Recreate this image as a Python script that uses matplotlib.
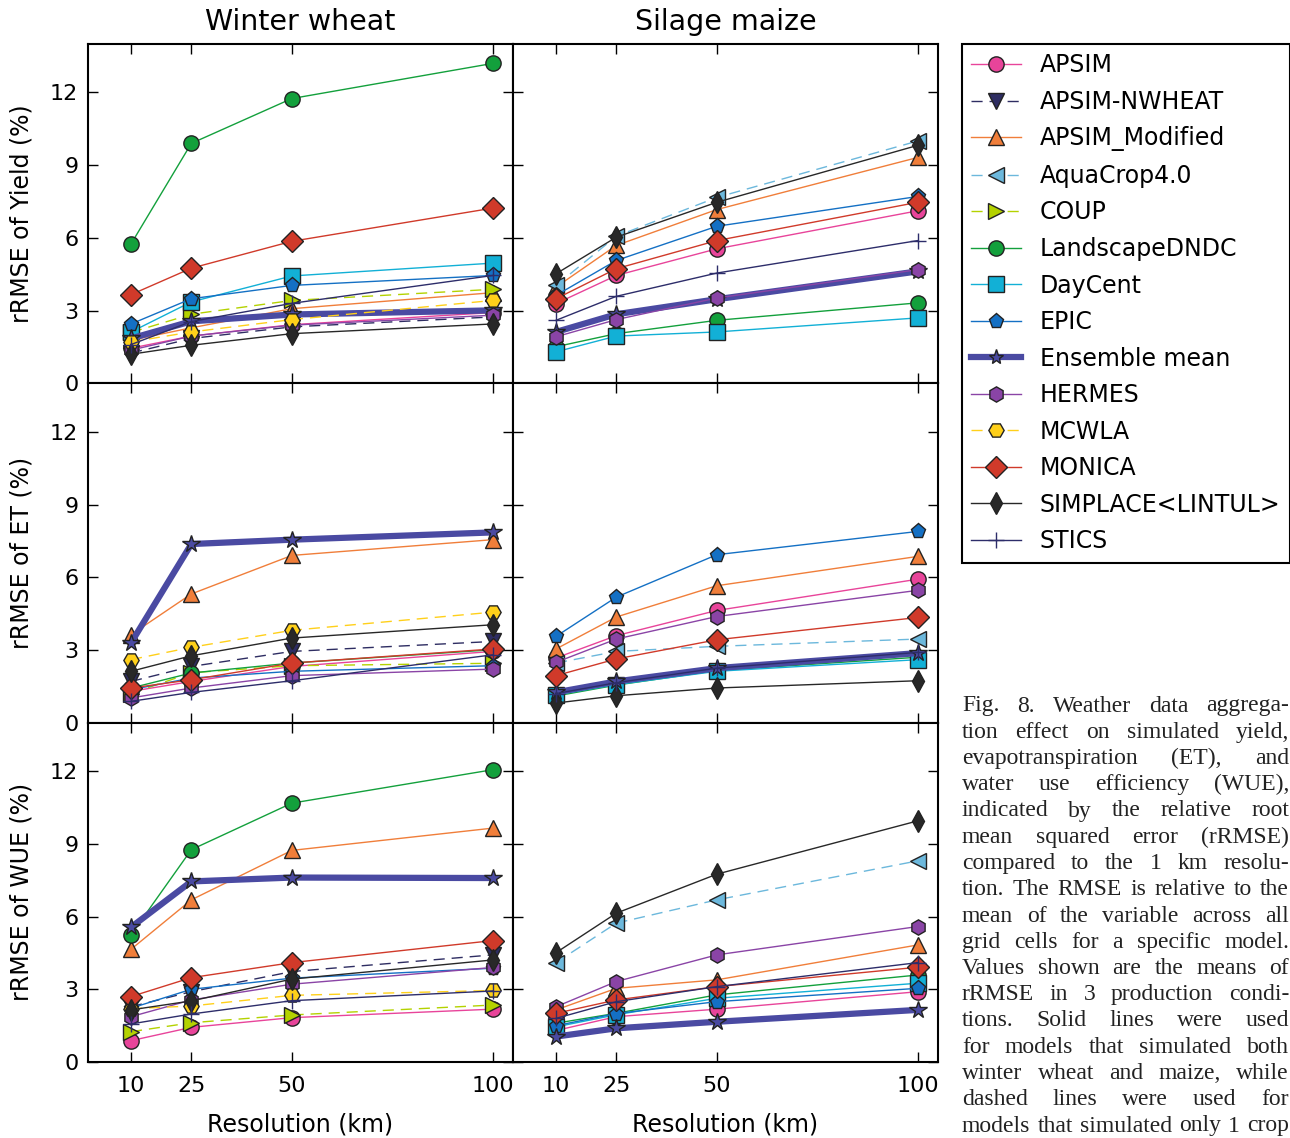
import matplotlib
matplotlib.use('Agg')
import matplotlib.pyplot as plt
from matplotlib.lines import Line2D

resolution = [10, 25, 50, 100]

models = ['APSIM', 'APSIM-NWHEAT', 'APSIM_Modified', 'AquaCrop4.0', 'COUP',
          'LandscapeDNDC', 'DayCent', 'EPIC', 'Ensemble mean', 'HERMES',
          'MCWLA', 'MONICA', 'SIMPLACE<LINTUL>', 'STICS']

# rRMSE (%) per panel
yield_wheat = {
    'APSIM': [1.45, 1.95, 2.42, 2.92],
    'APSIM-NWHEAT': [1.25, 1.85, 2.33, 2.74],
    'APSIM_Modified': [1.78, 2.29, 3.08, 3.74],
    'COUP': [2.1, 2.85, 3.42, 3.88],
    'LandscapeDNDC': [5.75, 9.9, 11.75, 13.2],
    'DayCent': [2.12, 3.36, 4.43, 4.96],
    'EPIC': [2.45, 3.49, 4.04, 4.45],
    'Ensemble mean': [1.85, 2.56, 2.84, 3.01],
    'HERMES': [1.37, 1.95, 2.40, 2.81],
    'MCWLA': [1.71, 2.12, 2.63, 3.42],
    'MONICA': [3.66, 4.75, 5.86, 7.23],
    'SIMPLACE<LINTUL>': [1.2, 1.57, 2.05, 2.45],
    'STICS': [1.6, 2.55, 3.3, 4.45],
}
yield_maize = {
    'APSIM': [3.29, 4.45, 5.55, 7.12],
    'APSIM_Modified': [3.97, 5.69, 7.17, 9.32],
    'AquaCrop4.0': [4.04, 6.07, 7.67, 10.0],
    'LandscapeDNDC': [1.51, 2.05, 2.60, 3.32],
    'DayCent': [1.30, 1.95, 2.12, 2.70],
    'EPIC': [3.63, 5.07, 6.48, 7.71],
    'Ensemble mean': [2.12, 2.85, 3.47, 4.62],
    'HERMES': [1.92, 2.63, 3.52, 4.69],
    'MONICA': [3.49, 4.73, 5.89, 7.47],
    'SIMPLACE<LINTUL>': [4.52, 6.03, 7.47, 9.82],
    'STICS': [2.60, 3.59, 4.55, 5.89],
}
et_wheat = {
    'APSIM': [1.29, 1.70, 2.32, 2.94],
    'APSIM-NWHEAT': [1.7, 2.32, 2.94, 3.35],
    'APSIM_Modified': [3.63, 5.31, 6.9, 7.55],
    'COUP': [1.2, 2.06, 2.35, 2.45],
    'LandscapeDNDC': [1.43, 2.05, 2.46, 3.01],
    'EPIC': [1.36, 1.84, 2.12, 2.35],
    'Ensemble mean': [3.29, 7.37, 7.55, 7.85],
    'HERMES': [1.02, 1.43, 1.94, 2.21],
    'MCWLA': [2.6, 3.11, 3.81, 4.56],
    'MONICA': [1.43, 1.77, 2.46, 3.04],
    'SIMPLACE<LINTUL>': [2.12, 2.76, 3.49, 4.04],
    'STICS': [0.88, 1.25, 1.73, 2.80],
}
et_maize = {
    'APSIM': [2.67, 3.59, 4.63, 5.92],
    'APSIM_Modified': [3.04, 4.36, 5.65, 6.86],
    'AquaCrop4.0': [2.46, 2.94, 3.15, 3.45],
    'LandscapeDNDC': [1.1, 1.55, 2.15, 2.7],
    'DayCent': [1.15, 1.57, 2.12, 2.6],
    'EPIC': [3.56, 5.18, 6.93, 7.89],
    'Ensemble mean': [1.25, 1.70, 2.25, 2.87],
    'HERMES': [2.49, 3.45, 4.38, 5.46],
    'MONICA': [1.94, 2.63, 3.42, 4.34],
    'SIMPLACE<LINTUL>': [0.81, 1.11, 1.43, 1.73],
    'STICS': [1.2, 1.65, 2.25, 2.9],
}
wue_wheat = {
    'APSIM': [0.88, 1.43, 1.83, 2.18],
    'APSIM-NWHEAT': [2.28, 2.90, 3.73, 4.42],
    'APSIM_Modified': [4.65, 6.69, 8.73, 9.65],
    'COUP': [1.25, 1.62, 1.94, 2.35],
    'LandscapeDNDC': [5.25, 8.76, 10.68, 12.06],
    'EPIC': [2.22, 3.0, 3.46, 3.87],
    'Ensemble mean': [5.56, 7.45, 7.61, 7.59],
    'HERMES': [1.87, 2.56, 3.21, 3.9],
    'MCWLA': [2.2, 2.31, 2.75, 2.95],
    'MONICA': [2.70, 3.48, 4.10, 5.01],
    'SIMPLACE<LINTUL>': [2.15, 2.52, 3.42, 4.21],
    'STICS': [1.57, 1.98, 2.53, 2.93],
}
wue_maize = {
    'APSIM': [1.3, 1.87, 2.18, 2.90],
    'APSIM_Modified': [2.15, 3.04, 3.39, 4.83],
    'AquaCrop4.0': [4.10, 5.73, 6.69, 8.30],
    'LandscapeDNDC': [1.6, 2.01, 2.77, 3.59],
    'DayCent': [1.45, 1.95, 2.63, 3.25],
    'EPIC': [1.5, 2.0, 2.49, 3.04],
    'Ensemble mean': [1.05, 1.39, 1.66, 2.15],
    'HERMES': [2.28, 3.32, 4.42, 5.59],
    'MONICA': [2.01, 2.56, 3.11, 3.91],
    'SIMPLACE<LINTUL>': [4.51, 6.14, 7.75, 9.95],
    'STICS': [1.8, 2.49, 3.11, 4.10],
}

col_titles = ['Winter wheat', 'Silage maize']
row_labels = ['rRMSE of Yield (%)', 'rRMSE of ET (%)', 'rRMSE of WUE (%)']
yticks = [0, 3, 6, 9, 12]

# colour, marker, linestyle
style = {
    'APSIM': ('#e8449a', 'o', '-'),
    'APSIM-NWHEAT': ('#2e2d62', 'v', '--'),
    'APSIM_Modified': ('#f07e3a', '^', '-'),
    'AquaCrop4.0': ('#6cb8dc', '<', '--'),
    'COUP': ('#b4d200', '>', '--'),
    'LandscapeDNDC': ('#13a03c', 'o', '-'),
    'DayCent': ('#12b0d6', 's', '-'),
    'EPIC': ('#1470c4', 'p', '-'),
    'Ensemble mean': ('#4a4aa2', '*', '-'),
    'HERMES': ('#8a44a6', 'h', '-'),
    'MCWLA': ('#ffd01a', 'H', '--'),
    'MONICA': ('#d03a2a', 'D', '-'),
    'SIMPLACE<LINTUL>': ('#282828', 'd', '-'),
    'STICS': ('#2d2d6a', '+', '-'),
}

caption_lines = [
    'Fig. 8. Weather data aggrega-',
    'tion effect on simulated yield,',
    'evapotranspiration (ET), and',
    'water use efficiency (WUE),',
    'indicated by the relative root',
    'mean squared error (rRMSE)',
    'compared to the 1 km resolu-',
    'tion. The RMSE is relative to the',
    'mean of the variable across all',
    'grid cells for a specific model.',
    'Values shown are the means of',
    'rRMSE in 3 production condi-',
    'tions. Solid lines were used',
    'for models that simulated both',
    'winter wheat and maize, while',
    'dashed lines were used for',
    'models that simulated only 1 crop',
]

W, H = 1290, 1138


def line_kw(name):
    color, marker, ls = style[name]
    kw = dict(color=color, marker=marker, linestyle=ls, ms=11, mew=1,
              mec=color if marker == '+' else '#222222', mfc=color)
    if name == 'Ensemble mean':
        kw['lw'] = 4.5
        kw['ms'] = 13
    else:
        kw['lw'] = 1
    if ls == '--':
        kw['dashes'] = (8, 5)
    return kw


def fun():
    plt.rcParams['font.family'] = 'DejaVu Sans'
    fig, axes = plt.subplots(3, 2, figsize=(W / 100, H / 100), dpi=100,
                             sharex=True, sharey=True)
    fig.subplots_adjust(left=88 / W, right=938 / W, bottom=1 - 1062 / H,
                        top=1 - 44 / H, wspace=0, hspace=0)

    panels = [[yield_wheat, yield_maize], [et_wheat, et_maize], [wue_wheat, wue_maize]]
    for r in range(3):
        for c in range(2):
            ax = axes[r, c]
            data = panels[r][c]
            for name in models:
                if name in data:
                    ax.plot(resolution, data[name], **line_kw(name))
            ax.set_xlim(-0.7, 105)
            ax.set_ylim(0, 14)
            ax.set_xticks(resolution)
            ax.set_yticks(yticks)
            ax.tick_params(direction='in', top=True, right=True, length=7,
                           width=1, labelsize=16)
            ax.tick_params(axis='x', pad=10)
            ax.tick_params(axis='y', pad=7)
            for sp in ax.spines.values():
                sp.set_linewidth(1.5)
            if r == 0:
                ax.set_title(col_titles[c], fontsize=20.5, pad=10)
            if c == 0:
                ax.set_ylabel(row_labels[r], fontsize=17, labelpad=12)
            if r == 2:
                ax.set_xlabel('Resolution (km)', fontsize=17, labelpad=12)

    # legend with proxy handles, since no panel has every model
    handles = [Line2D([], [], **line_kw(name)) for name in models]
    for h in handles:
        h.set_markersize(11)
    leg = fig.legend(handles, models, loc='upper left',
                     bbox_to_anchor=(962 / W, 1 - 44 / H), borderaxespad=0,
                     fontsize=17, numpoints=1, fancybox=False, framealpha=1,
                     edgecolor='black', labelspacing=0.53, handlelength=2.1,
                     handletextpad=0.8, borderpad=0.4)
    leg.get_frame().set_linewidth(1.5)

    # justified caption; shrink the font until the tightest line fits
    renderer = fig.canvas.get_renderer()
    x0, x1 = 962, 1289
    y_first, step = 706, 26.25
    cap_font = 'Liberation Serif'
    fs = 17
    while fs > 9:
        probe = [fig.text(0, 0, line, fontsize=fs, family=cap_font)
                 for line in caption_lines]
        widest = max(t.get_window_extent(renderer).width for t in probe)
        for t in probe:
            t.remove()
        if widest <= (x1 - x0):
            break
        fs -= 0.25
    for i, line in enumerate(caption_lines):
        words = line.split()
        ts = [fig.text(0, 0, w, fontsize=fs, family=cap_font,
                       va='center', ha='left', color='#222222') for w in words]
        widths = [t.get_window_extent(renderer).width for t in ts]
        gap = (x1 - x0 - sum(widths)) / max(len(words) - 1, 1)
        x = x0
        for t, w in zip(ts, widths):
            t.set_position((x / W, 1 - (y_first + i * step) / H))
            x += w + gap

    fig.savefig('out.png', dpi=100)


if __name__ == "__main__":
    fun()
